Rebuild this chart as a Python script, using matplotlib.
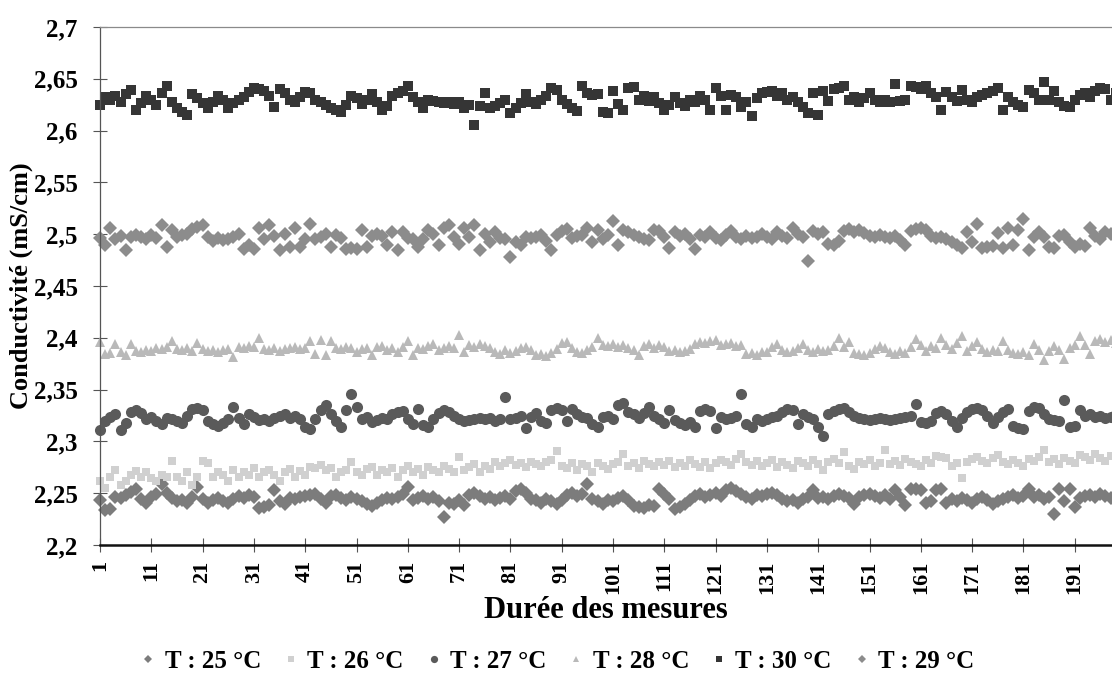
"""
Conductivité vs durée des mesures, 6 températures (nuage de points, style Excel).
"""
import matplotlib
matplotlib.use('Agg')
import matplotlib.pyplot as plt
from matplotlib.ticker import FixedLocator, FuncFormatter

plt.rcParams['font.family'] = ['Liberation Serif', 'DejaVu Serif']
plt.rcParams['font.weight'] = 'bold'

# ── données ──
t25 = [2.243, 2.234, 2.235, 2.246, 2.245, 2.248, 2.251, 2.254, 2.244, 2.241,
       2.246, 2.249, 2.259, 2.250, 2.245, 2.242, 2.243, 2.241, 2.246, 2.256,
       2.244, 2.241, 2.243, 2.245, 2.242, 2.241, 2.244, 2.247, 2.245, 2.248,
       2.246, 2.236, 2.237, 2.239, 2.253, 2.242, 2.240, 2.245, 2.244, 2.246,
       2.247, 2.248, 2.249, 2.244, 2.241, 2.247, 2.248, 2.245, 2.243, 2.246,
       2.244, 2.242, 2.240, 2.238, 2.241, 2.243, 2.245, 2.244, 2.246, 2.249,
       2.256, 2.243, 2.245, 2.247, 2.244, 2.246, 2.242, 2.227, 2.241, 2.240,
       2.243, 2.239, 2.248, 2.250, 2.247, 2.244, 2.246, 2.243, 2.245, 2.247,
       2.244, 2.252, 2.254, 2.250, 2.244, 2.243, 2.241, 2.244, 2.242, 2.240,
       2.243, 2.248, 2.250, 2.247, 2.249, 2.259, 2.244, 2.242, 2.240, 2.243,
       2.242, 2.245, 2.247, 2.243, 2.238, 2.237, 2.236, 2.239, 2.238, 2.254,
       2.249, 2.244, 2.235, 2.237, 2.240, 2.243, 2.247, 2.249, 2.246, 2.248,
       2.250, 2.247, 2.253, 2.255, 2.252, 2.249, 2.246, 2.244, 2.248, 2.247,
       2.249, 2.250, 2.248, 2.244, 2.242, 2.243, 2.241, 2.244, 2.246, 2.253,
       2.245, 2.246, 2.244, 2.247, 2.249, 2.247, 2.245, 2.240, 2.246, 2.248,
       2.249, 2.247, 2.245, 2.248, 2.244, 2.253, 2.246, 2.239, 2.254, 2.254,
       2.253, 2.241, 2.242, 2.253, 2.254, 2.241, 2.244, 2.242, 2.245, 2.243,
       2.241, 2.244, 2.246, 2.243, 2.240, 2.242, 2.244, 2.246, 2.248, 2.245,
       2.247, 2.254, 2.246, 2.248, 2.244, 2.246, 2.230, 2.254, 2.242, 2.254,
       2.237, 2.245, 2.247, 2.248, 2.246, 2.249, 2.247, 2.245, 2.248, 2.246]

t26 = [2.262, 2.255, 2.266, 2.272, 2.258, 2.262, 2.268, 2.271, 2.266, 2.270,
       2.265, 2.262, 2.268, 2.266, 2.281, 2.266, 2.262, 2.270, 2.258, 2.266,
       2.281, 2.279, 2.266, 2.270, 2.268, 2.262, 2.272, 2.266, 2.270, 2.268,
       2.274, 2.266, 2.270, 2.272, 2.268, 2.262, 2.270, 2.273, 2.266, 2.271,
       2.268, 2.275, 2.274, 2.277, 2.272, 2.274, 2.266, 2.270, 2.272, 2.280,
       2.270, 2.268, 2.273, 2.275, 2.268, 2.272, 2.270, 2.274, 2.266, 2.272,
       2.276, 2.270, 2.273, 2.268, 2.275, 2.272, 2.270, 2.276, 2.273, 2.270,
       2.285, 2.272, 2.275, 2.278, 2.270, 2.276, 2.273, 2.280, 2.276, 2.279,
       2.282, 2.277, 2.279, 2.275, 2.280, 2.278, 2.276, 2.280, 2.282, 2.291,
       2.276, 2.274, 2.279, 2.272, 2.278, 2.276, 2.270, 2.279, 2.276, 2.273,
       2.278, 2.280, 2.288, 2.276, 2.279, 2.274, 2.281, 2.278, 2.276, 2.280,
       2.277, 2.281, 2.275, 2.279, 2.276, 2.282, 2.278, 2.275, 2.280, 2.274,
       2.279, 2.282, 2.280, 2.277, 2.283, 2.288, 2.280, 2.277, 2.281, 2.276,
       2.279, 2.282, 2.275, 2.280, 2.277, 2.274, 2.281, 2.279, 2.276, 2.282,
       2.278, 2.272, 2.280, 2.283, 2.279, 2.290, 2.276, 2.273, 2.280, 2.278,
       2.282, 2.276, 2.279, 2.292, 2.278, 2.281, 2.277, 2.283, 2.280, 2.278,
       2.276, 2.282, 2.279, 2.286, 2.285, 2.284, 2.276, 2.279, 2.265, 2.280,
       2.283, 2.285, 2.281, 2.279, 2.284, 2.287, 2.280, 2.278, 2.282, 2.279,
       2.276, 2.283, 2.281, 2.285, 2.292, 2.280, 2.283, 2.278, 2.284, 2.281,
       2.279, 2.287, 2.285, 2.282, 2.288, 2.284, 2.281, 2.286, 2.283, 2.285]

t27 = [2.311, 2.320, 2.324, 2.326, 2.311, 2.318, 2.328, 2.330, 2.327, 2.322,
       2.324, 2.320, 2.317, 2.323, 2.322, 2.320, 2.318, 2.325, 2.331, 2.332,
       2.330, 2.320, 2.317, 2.315, 2.318, 2.322, 2.333, 2.323, 2.317, 2.326,
       2.324, 2.321, 2.322, 2.320, 2.323, 2.325, 2.326, 2.323, 2.325, 2.322,
       2.314, 2.312, 2.322, 2.330, 2.335, 2.326, 2.320, 2.314, 2.330, 2.346,
       2.333, 2.322, 2.324, 2.319, 2.321, 2.323, 2.322, 2.326, 2.328, 2.329,
       2.322, 2.317, 2.331, 2.316, 2.314, 2.322, 2.327, 2.330, 2.328, 2.325,
       2.322, 2.320, 2.321, 2.322, 2.323, 2.322, 2.323, 2.320, 2.322, 2.343,
       2.322, 2.323, 2.325, 2.313, 2.324, 2.327, 2.320, 2.318, 2.330, 2.332,
       2.330, 2.320, 2.331, 2.326, 2.324, 2.323, 2.317, 2.314, 2.324, 2.325,
       2.322, 2.335, 2.337, 2.328, 2.326, 2.323, 2.327, 2.333, 2.325, 2.322,
       2.318, 2.330, 2.321, 2.318, 2.316, 2.319, 2.314, 2.329, 2.331, 2.329,
       2.313, 2.324, 2.322, 2.323, 2.325, 2.346, 2.317, 2.314, 2.322, 2.320,
       2.322, 2.324, 2.325, 2.328, 2.331, 2.330, 2.317, 2.326, 2.324, 2.322,
       2.314, 2.305, 2.326, 2.329, 2.331, 2.332, 2.328, 2.325, 2.323, 2.322,
       2.321, 2.322, 2.323, 2.322, 2.321, 2.322, 2.323, 2.324, 2.325, 2.336,
       2.319, 2.318, 2.320, 2.327, 2.329, 2.326, 2.320, 2.314, 2.323, 2.328,
       2.331, 2.332, 2.330, 2.325, 2.318, 2.324, 2.328, 2.331, 2.315, 2.313,
       2.312, 2.329, 2.333, 2.332, 2.326, 2.322, 2.321, 2.320, 2.340, 2.314,
       2.315, 2.330, 2.325, 2.326, 2.324, 2.325, 2.323, 2.324, 2.326, 2.325]

t28 = [2.396, 2.384, 2.385, 2.394, 2.386, 2.383, 2.394, 2.387, 2.386, 2.388,
       2.387, 2.390, 2.389, 2.391, 2.397, 2.389, 2.388, 2.390, 2.387, 2.395,
       2.389, 2.387, 2.388, 2.386, 2.388, 2.389, 2.381, 2.391, 2.390, 2.392,
       2.391, 2.400, 2.389, 2.388, 2.390, 2.387, 2.389, 2.390, 2.391, 2.389,
       2.390, 2.397, 2.384, 2.398, 2.383, 2.397, 2.390, 2.389, 2.391, 2.390,
       2.386, 2.389, 2.390, 2.383, 2.391, 2.392, 2.388, 2.390, 2.386, 2.391,
       2.397, 2.383, 2.390, 2.389, 2.392, 2.394, 2.388, 2.390, 2.392, 2.390,
       2.403, 2.386, 2.393, 2.391, 2.394, 2.392, 2.390, 2.386, 2.384, 2.388,
       2.385, 2.387, 2.390, 2.391, 2.388, 2.383, 2.384, 2.382, 2.385, 2.389,
       2.395, 2.396, 2.390, 2.386, 2.385, 2.388, 2.391, 2.400, 2.393, 2.392,
       2.394, 2.391, 2.393, 2.390, 2.388, 2.383, 2.392, 2.394, 2.390, 2.393,
       2.391, 2.387, 2.388, 2.386, 2.387, 2.389, 2.394, 2.396, 2.395, 2.397,
       2.398, 2.393, 2.394, 2.395, 2.392, 2.393, 2.384, 2.385, 2.383, 2.386,
       2.386, 2.391, 2.394, 2.388, 2.386, 2.387, 2.390, 2.394, 2.388, 2.386,
       2.389, 2.387, 2.388, 2.392, 2.400, 2.391, 2.396, 2.385, 2.384, 2.383,
       2.385, 2.389, 2.392, 2.390, 2.386, 2.384, 2.387, 2.385, 2.391, 2.399,
       2.393, 2.387, 2.392, 2.390, 2.400, 2.393, 2.389, 2.395, 2.402, 2.387,
       2.392, 2.396, 2.389, 2.386, 2.388, 2.387, 2.397, 2.388, 2.385, 2.384,
       2.386, 2.383, 2.394, 2.388, 2.379, 2.387, 2.392, 2.388, 2.380, 2.390,
       2.393, 2.402, 2.393, 2.384, 2.397, 2.399, 2.396, 2.398, 2.395, 2.397]

t30 = [2.625, 2.632, 2.630, 2.633, 2.628, 2.635, 2.639, 2.620, 2.627, 2.633,
       2.630, 2.625, 2.636, 2.643, 2.628, 2.622, 2.618, 2.615, 2.635, 2.631,
       2.627, 2.622, 2.628, 2.633, 2.630, 2.622, 2.627, 2.630, 2.632, 2.637,
       2.641, 2.640, 2.638, 2.633, 2.623, 2.640, 2.636, 2.630, 2.628, 2.632,
       2.637, 2.636, 2.630, 2.628, 2.625, 2.622, 2.620, 2.618, 2.625, 2.633,
       2.631, 2.626, 2.630, 2.635, 2.628, 2.620, 2.624, 2.633, 2.636, 2.638,
       2.643, 2.632, 2.628, 2.622, 2.630, 2.629, 2.628, 2.627, 2.628, 2.626,
       2.628, 2.622, 2.625, 2.605, 2.624, 2.636, 2.622, 2.624, 2.627, 2.630,
       2.617, 2.622, 2.627, 2.635, 2.628, 2.626, 2.630, 2.633, 2.641, 2.639,
       2.630, 2.626, 2.622, 2.619, 2.643, 2.636, 2.634, 2.635, 2.618, 2.617,
       2.638, 2.626, 2.620, 2.641, 2.642, 2.630, 2.633, 2.629, 2.632, 2.627,
       2.620, 2.625, 2.632, 2.627, 2.624, 2.630, 2.628, 2.633, 2.630, 2.620,
       2.641, 2.633, 2.620, 2.634, 2.632, 2.623, 2.628, 2.614, 2.631, 2.636,
       2.637, 2.638, 2.633, 2.636, 2.630, 2.632, 2.628, 2.623, 2.617, 2.636,
       2.615, 2.638, 2.629, 2.640, 2.641, 2.643, 2.630, 2.632, 2.628, 2.631,
       2.636, 2.630, 2.628, 2.630, 2.628, 2.645, 2.629, 2.630, 2.643, 2.642,
       2.640, 2.643, 2.636, 2.632, 2.620, 2.637, 2.632, 2.629, 2.639, 2.630,
       2.628, 2.632, 2.634, 2.636, 2.638, 2.641, 2.620, 2.632, 2.628, 2.625,
       2.623, 2.639, 2.636, 2.630, 2.647, 2.630, 2.638, 2.628, 2.624, 2.623,
       2.630, 2.634, 2.636, 2.632, 2.638, 2.641, 2.640, 2.630, 2.636, 2.634]

t29 = [2.496, 2.490, 2.506, 2.495, 2.498, 2.485, 2.497, 2.499, 2.497, 2.495,
       2.499, 2.496, 2.509, 2.488, 2.504, 2.497, 2.499, 2.500, 2.505, 2.507,
       2.509, 2.497, 2.493, 2.496, 2.494, 2.495, 2.497, 2.500, 2.486, 2.490,
       2.486, 2.506, 2.495, 2.509, 2.498, 2.485, 2.500, 2.488, 2.506, 2.488,
       2.495, 2.510, 2.495, 2.497, 2.500, 2.488, 2.499, 2.496, 2.486, 2.487,
       2.486, 2.504, 2.488, 2.498, 2.500, 2.498, 2.490, 2.502, 2.485, 2.502,
       2.496, 2.495, 2.488, 2.495, 2.504, 2.500, 2.490, 2.506, 2.509, 2.497,
       2.491, 2.506, 2.497, 2.509, 2.485, 2.500, 2.492, 2.502, 2.496, 2.495,
       2.478, 2.492, 2.490, 2.497, 2.496, 2.497, 2.499, 2.493, 2.485, 2.499,
       2.503, 2.505, 2.496, 2.498, 2.499, 2.506, 2.492, 2.504, 2.495, 2.499,
       2.513, 2.490, 2.504, 2.502, 2.499, 2.497, 2.495, 2.494, 2.504, 2.503,
       2.497, 2.487, 2.502, 2.498, 2.500, 2.495, 2.486, 2.499, 2.497, 2.502,
       2.496, 2.494, 2.499, 2.503, 2.497, 2.495, 2.498, 2.496, 2.497, 2.500,
       2.497, 2.495, 2.502, 2.498, 2.496, 2.506, 2.500, 2.497, 2.474, 2.503,
       2.500, 2.502, 2.491, 2.490, 2.493, 2.503, 2.505, 2.502, 2.504, 2.501,
       2.498, 2.497, 2.499, 2.497, 2.496, 2.498, 2.494, 2.490, 2.503, 2.505,
       2.506, 2.504, 2.498, 2.496, 2.497, 2.495, 2.492, 2.490, 2.487, 2.502,
       2.492, 2.510, 2.487, 2.488, 2.489, 2.501, 2.487, 2.506, 2.490, 2.504,
       2.515, 2.485, 2.497, 2.502, 2.497, 2.488, 2.487, 2.498, 2.499, 2.492,
       2.488, 2.491, 2.489, 2.506, 2.498, 2.495, 2.502, 2.500, 2.498, 2.501]

labels = ['T : 25 °C', 'T : 26 °C', 'T : 27 °C', 'T : 28 °C', 'T : 30 °C', 'T : 29 °C']
x_ticks = list(range(1, 200, 10))
y_ticks = [2.2, 2.25, 2.3, 2.35, 2.4, 2.45, 2.5, 2.55, 2.6, 2.65, 2.7]


def main():
    fig = plt.figure(figsize=(11.12, 6.84), dpi=100)
    ax = fig.add_axes([100 / 1112, 1 - 545 / 684, 1012 / 1112, 518 / 684])

    series = [t25, t26, t27, t28, t30, t29]
    # (marker, taille, couleur)
    styles = [('D', 7.0, '#7c7c7c'),
              ('s', 6.0, '#d0d0d0'),
              ('o', 8.0, '#5a5a5a'),
              ('^', 7.5, '#b9b9b9'),
              ('s', 7.0, '#353535'),
              ('D', 7.0, '#8c8c8c')]

    for ys, lab, (mk, ms, col) in zip(series, labels, styles):
        xs = list(range(1, len(ys) + 1))
        ax.plot(xs, ys, linestyle='none', marker=mk, markersize=ms,
                color=col, markeredgewidth=0, label=lab, clip_on=False)

    ax.set_xlim(1, 1 + 1012 / 5.13)
    ax.set_ylim(2.2, 2.7)

    ax.xaxis.set_major_locator(FixedLocator(x_ticks))
    ax.yaxis.set_major_locator(FixedLocator(y_ticks))
    ax.yaxis.set_major_formatter(
        FuncFormatter(lambda v, _: f'{v:g}'.replace('.', ',')))

    ax.tick_params(axis='x', direction='inout', length=10, width=0.8,
                   color='#555555', labelsize=16, labelrotation=90, pad=6)
    ax.tick_params(axis='y', direction='inout', length=10, width=0.8,
                   color='#555555', labelsize=18, pad=11)
    for lab in ax.get_xticklabels() + ax.get_yticklabels():
        lab.set_fontweight('bold')

    ax.spines['right'].set_visible(False)
    ax.spines['top'].set_color('#8a8a8a')
    ax.spines['top'].set_linewidth(0.9)
    ax.spines['left'].set_color('#555555')
    ax.spines['left'].set_linewidth(0.9)
    ax.spines['bottom'].set_color('#111111')
    ax.spines['bottom'].set_linewidth(1.8)

    ax.set_xlabel('Durée des mesures', fontsize=22, fontweight='bold',
                  labelpad=2)
    ax.set_ylabel('Conductivité (mS/cm)', fontsize=19, fontweight='bold')
    ax.yaxis.set_label_coords(-67 / 1012, 0.5)

    fig.legend(loc='center', bbox_to_anchor=(0.502, 1 - 661 / 684),
               ncol=6, frameon=False, markerscale=0.65,
               handlelength=0.5, handletextpad=0.4, columnspacing=0.95,
               prop={'family': ['Liberation Serif'], 'weight': 'bold',
                     'size': 18})

    fig.savefig('out.png', dpi=100, facecolor='white')
    plt.close(fig)


if __name__ == '__main__':
    main()
